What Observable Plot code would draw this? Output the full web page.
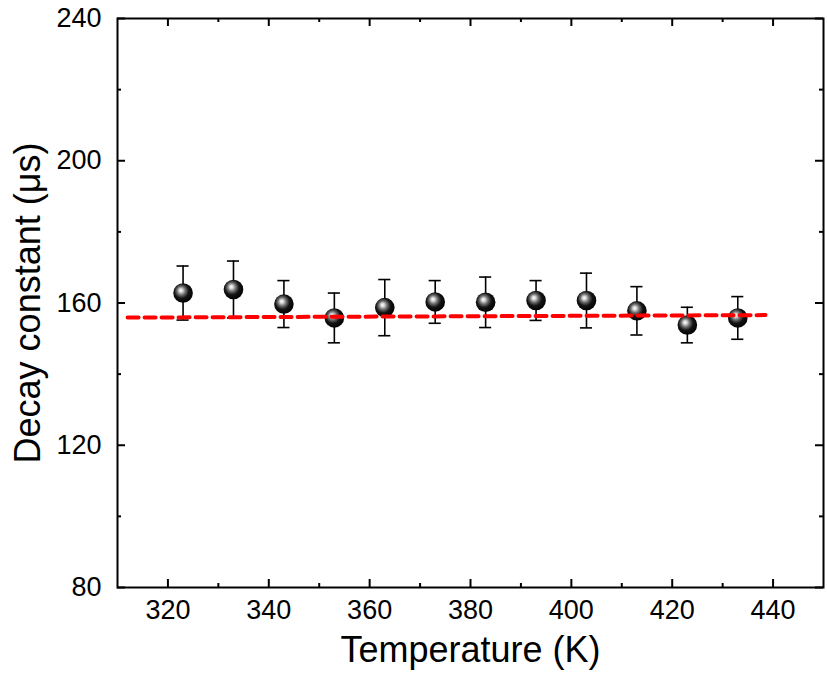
<!DOCTYPE html>
<html>
<head>
<meta charset="utf-8">
<script src="https://cdn.jsdelivr.net/npm/d3@7"></script>
<script src="https://cdn.jsdelivr.net/npm/@observablehq/plot@0.6"></script>
<style>
  html, body { margin: 0; padding: 0; background: #fff; }
  #chart svg { display: block; }
</style>
</head>
<body>
<div id="chart"></div>
<script>
// Data
const temperature = [323, 333, 343, 353, 363, 373, 383, 393, 403, 413, 423, 433];
const decay = [162.8, 163.8, 159.7, 155.8, 158.7, 160.3, 160.2, 160.7, 160.7, 157.8, 153.8, 155.8];
const errorBar = [7.6, 8.0, 6.6, 7.0, 7.9, 6.0, 7.1, 5.6, 7.7, 6.8, 5.0, 6.0];
const fitX = [312, 438.5];
const fitY = [155.9, 156.6];
const xMajor = [320, 340, 360, 380, 400, 420, 440];
const xMinor = [330, 350, 370, 390, 410, 430];
const yMajor = [80, 120, 160, 200, 240];
const yMinor = [100, 140, 180, 220];
const xLabel = "Temperature (K)";
const yLabel = "Decay constant (μs)";

const points = temperature.map((t, i) => ({t, v: decay[i], lo: decay[i] - errorBar[i], hi: decay[i] + errorBar[i]}));
const fit = fitX.map((x, i) => ({x, y: fitY[i]}));

const W = 827, H = 682;
const mL = 117, mR = 4, mT = 18, mB = 95;
const innerW = W - mL - mR, innerH = H - mT - mB;
const font = "Liberation Sans, Arial, sans-serif";
const capHalf = 1.2; // in temperature units

const chart = Plot.plot({
  width: W, height: H,
  marginLeft: mL, marginRight: mR, marginTop: mT, marginBottom: mB,
  style: {fontFamily: font, background: "#fff", color: "#000"},
  x: {domain: [310, 450]},
  y: {domain: [80, 240]},
  marks: [
    // tick labels
    Plot.axisX({ticks: xMajor, tickSize: 0, tickPadding: 12, fontSize: 27, label: null}),
    Plot.axisY({ticks: yMajor, tickSize: 0, tickPadding: 16, fontSize: 27, label: null}),
    // inward ticks
    Plot.tickX(xMajor, {x: d => d, insetTop: innerH - 8, strokeWidth: 2}),
    Plot.tickX(xMajor, {x: d => d, insetBottom: innerH - 8, strokeWidth: 2}),
    Plot.tickX(xMinor, {x: d => d, insetTop: innerH - 4, strokeWidth: 2}),
    Plot.tickX(xMinor, {x: d => d, insetBottom: innerH - 4, strokeWidth: 2}),
    Plot.tickY(yMajor, {y: d => d, insetRight: innerW - 8, strokeWidth: 2}),
    Plot.tickY(yMajor, {y: d => d, insetLeft: innerW - 8, strokeWidth: 2}),
    Plot.tickY(yMinor, {y: d => d, insetRight: innerW - 4, strokeWidth: 2}),
    Plot.tickY(yMinor, {y: d => d, insetLeft: innerW - 4, strokeWidth: 2}),
    Plot.frame({stroke: "#000", strokeWidth: 2}),
    // error bars
    Plot.ruleX(points, {x: "t", y1: "lo", y2: "hi", stroke: "#000", strokeWidth: 1.6}),
    Plot.ruleY(points, {y: "hi", x1: d => d.t - capHalf, x2: d => d.t + capHalf, stroke: "#000", strokeWidth: 1.6}),
    Plot.ruleY(points, {y: "lo", x1: d => d.t - capHalf, x2: d => d.t + capHalf, stroke: "#000", strokeWidth: 1.6}),
    // spheres
    Plot.dot(points, {x: "t", y: "v", r: 9.8, fill: "url(#sphereGrad)", stroke: "none"}),
    // fit line
    Plot.line(fit, {x: "x", y: "y", stroke: "#ff0000", strokeWidth: 4, strokeDasharray: "11,6"}),
    // axis titles
    Plot.text([xLabel], {frameAnchor: "bottom", dy: 74, fontSize: 36, text: d => d, fill: "#000", textAnchor: "middle"}),
    Plot.text([yLabel], {frameAnchor: "left", dx: -89, rotate: -90, fontSize: 36, text: d => d, fill: "#000", textAnchor: "middle"})
  ]
});

// sphere gradient
const ns = "http://www.w3.org/2000/svg";
const defs = document.createElementNS(ns, "defs");
const grad = document.createElementNS(ns, "radialGradient");
grad.setAttribute("id", "sphereGrad");
grad.setAttribute("cx", "0.45");
grad.setAttribute("cy", "0.42");
grad.setAttribute("r", "0.6");
grad.setAttribute("fx", "0.38");
grad.setAttribute("fy", "0.36");
[["0%", "#ffffff"], ["14%", "#dcdcdc"], ["36%", "#707070"], ["62%", "#141414"], ["100%", "#000000"]].forEach(([o, c]) => {
  const s = document.createElementNS(ns, "stop");
  s.setAttribute("offset", o);
  s.setAttribute("stop-color", c);
  grad.appendChild(s);
});
defs.appendChild(grad);
chart.insertBefore(defs, chart.firstChild);

document.getElementById("chart").appendChild(chart);
</script>
</body>
</html>
